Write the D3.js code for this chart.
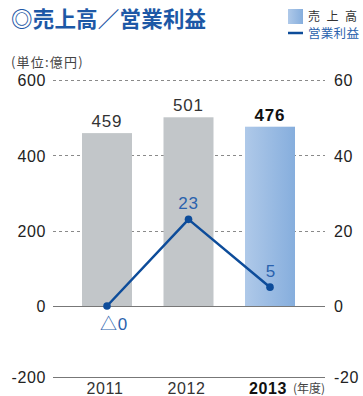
<!DOCTYPE html>
<html>
<head>
<meta charset="utf-8">
<script src="https://cdn.jsdelivr.net/npm/d3@7"></script>
<style>
  html, body { margin: 0; padding: 0; background: #fff; }
  svg { display: block; }
</style>
</head>
<body>
<svg id="chart" width="363" height="396"></svg>
<script>
// Fiscal years, net sales (億円) and operating income (億円)
const years = ["2011", "2012", "2013"];
const sales = [459, 501, 476];
const operatingIncome = [0, 23, 5];
const incomeLabels = ["△0", "23", "5"];
const leftTicks = [-200, 0, 200, 400, 600];
const rightTicks = [-20, 0, 20, 40, 60];

const svg = d3.select("#chart");
const latin = "'Liberation Sans', Arial, sans-serif";
const cjk = "'Noto Sans CJK JP', 'Noto Sans', sans-serif";

const plotLeft = 53, plotRight = 325;

const x = d3.scalePoint().domain(years).range([107, 270]);
const yL = d3.scaleLinear().domain([-200, 0, 600]).range([377, 306, 80]);
const yR = d3.scaleLinear().domain([-20, 0, 60]).range([377, 306, 80]);
const barW = 50;

const defs = svg.append("defs");
const grad = defs.append("linearGradient").attr("id", "hiGrad")
  .attr("x1", "0%").attr("x2", "100%").attr("y1", "0%").attr("y2", "0%");
grad.append("stop").attr("offset", "0%").attr("stop-color", "#afc9e9");
grad.append("stop").attr("offset", "100%").attr("stop-color", "#86aedd");

// Title
svg.append("text")
  .attr("x", 11).attr("y", 27)
  .attr("font-family", cjk).attr("font-weight", "bold")
  .attr("font-size", 21.5).attr("fill", "#1d58a6")
  .attr("letter-spacing", 0.2)
  .text("◎売上高／営業利益");

// Legend
svg.append("rect").attr("x", 288).attr("y", 9).attr("width", 15).attr("height", 15)
  .attr("fill", "url(#hiGrad)");
svg.append("text").attr("x", 308).attr("y", 20.5)
  .attr("font-family", cjk).attr("font-size", 12).attr("fill", "#333")
  .attr("letter-spacing", 6.5)
  .text("売上高");
svg.append("line").attr("x1", 288).attr("x2", 303).attr("y1", 33).attr("y2", 33)
  .attr("stroke", "#0d4c9a").attr("stroke-width", 2.5);
svg.append("text").attr("x", 308).attr("y", 38)
  .attr("font-family", cjk).attr("font-size", 12.5).attr("fill", "#2a62ad")
  .attr("letter-spacing", 0.3)
  .text("営業利益");

// Unit
svg.append("text").attr("x", 11).attr("y", 67)
  .attr("font-family", cjk).attr("font-size", 13).attr("fill", "#444")
  .attr("letter-spacing", 1.2)
  .text("(単位:億円)");

// Dashed gridlines (behind bars)
const grid = svg.append("g");
grid.selectAll("line").data(leftTicks.filter(d => d > 0)).join("line")
  .attr("x1", plotLeft).attr("x2", plotRight)
  .attr("y1", d => Math.round(yL(d)) + 0.5).attr("y2", d => Math.round(yL(d)) + 0.5)
  .attr("stroke", "#8a8a8a").attr("stroke-width", 1).attr("stroke-dasharray", "3,3");

// Bars
svg.append("g").selectAll("rect").data(years).join("rect")
  .attr("x", d => x(d) - barW / 2)
  .attr("width", barW)
  .attr("y", (d, i) => yL(sales[i]))
  .attr("height", (d, i) => yL(0) - yL(sales[i]))
  .attr("fill", (d, i) => i === years.length - 1 ? "url(#hiGrad)" : "#c2c6c9");

// Solid baseline rules at 0 and -200
svg.append("g").selectAll("line").data([0, -200]).join("line")
  .attr("x1", plotLeft).attr("x2", plotRight)
  .attr("y1", d => Math.round(yL(d)) + 0.5).attr("y2", d => Math.round(yL(d)) + 0.5)
  .attr("stroke", "#777").attr("stroke-width", 1.2);

// Left axis tick labels
const leftAxis = d3.axisLeft(yL).tickValues(leftTicks).tickSize(0).tickPadding(0)
  .tickFormat(d => String(d));
const gL = svg.append("g").attr("transform", "translate(46,0)").call(leftAxis);
gL.select(".domain").remove();
gL.selectAll("text").attr("font-family", latin).attr("font-size", 16)
  .attr("letter-spacing", 0.6).attr("fill", "#222").attr("dy", "0.36em");

// Right axis tick labels
const rightAxis = d3.axisRight(yR).tickValues(rightTicks).tickSize(0).tickPadding(0)
  .tickFormat(d => String(d));
const gR = svg.append("g").attr("transform", "translate(334,0)").call(rightAxis);
gR.select(".domain").remove();
gR.selectAll("text").attr("font-family", latin).attr("font-size", 16)
  .attr("letter-spacing", 0.6).attr("fill", "#222").attr("dy", "0.36em");

// Sales value labels
svg.append("g").selectAll("text").data(years).join("text")
  .attr("x", d => x(d))
  .attr("y", (d, i) => yL(sales[i]) - 6)
  .attr("text-anchor", "middle")
  .attr("font-family", latin).attr("font-size", 17)
  .attr("letter-spacing", 0.8)
  .attr("font-weight", (d, i) => i === years.length - 1 ? "bold" : "normal")
  .attr("fill", (d, i) => i === years.length - 1 ? "#111" : "#333")
  .text((d, i) => sales[i]);

// Operating income line
const line = d3.line().x((d, i) => x(years[i])).y(d => yR(d));
svg.append("path").datum(operatingIncome)
  .attr("d", line).attr("fill", "none")
  .attr("stroke", "#0d4c9a").attr("stroke-width", 2.5).attr("stroke-linejoin", "round");
svg.append("g").selectAll("circle").data(operatingIncome).join("circle")
  .attr("cx", (d, i) => x(years[i])).attr("cy", d => yR(d)).attr("r", 3.8)
  .attr("fill", "#0d4c9a");

// Operating income labels (the △ loss marker is set in the CJK face)
const incomeLabelPos = [
  { dx: 7, dy: 24 },
  { dx: 0, dy: -10 },
  { dx: 1, dy: -10 }
];
const incomeText = svg.append("g").selectAll("text").data(operatingIncome).join("text")
  .attr("x", (d, i) => x(years[i]) + incomeLabelPos[i].dx)
  .attr("y", (d, i) => yR(d) + incomeLabelPos[i].dy)
  .attr("text-anchor", "middle")
  .attr("font-family", latin).attr("font-size", 17).attr("letter-spacing", 0.8)
  .attr("fill", "#2a62ad");
incomeText.each(function(d, i) {
  const t = d3.select(this);
  const label = incomeLabels[i];
  if (label.startsWith("△")) {
    t.append("tspan").attr("font-family", cjk).attr("font-size", 17).text("△");
    t.append("tspan").text(label.slice(1));
  } else {
    t.text(label);
  }
});

// Year labels
const yearG = svg.append("g");
years.forEach((yr, i) => {
  const last = i === years.length - 1;
  yearG.append("text")
    .attr("x", x(yr) - 2).attr("y", 394)
    .attr("text-anchor", "middle")
    .attr("font-family", latin).attr("font-size", 16).attr("letter-spacing", 0.6)
    .attr("font-weight", last ? "bold" : "normal")
    .attr("fill", last ? "#111" : "#333")
    .text(yr);
});
svg.append("text")
  .attr("x", x(years[years.length - 1]) + 23).attr("y", 392.5)
  .attr("font-family", cjk).attr("font-size", 12).attr("fill", "#444")
  .text("(年度)");
</script>
</body>
</html>
